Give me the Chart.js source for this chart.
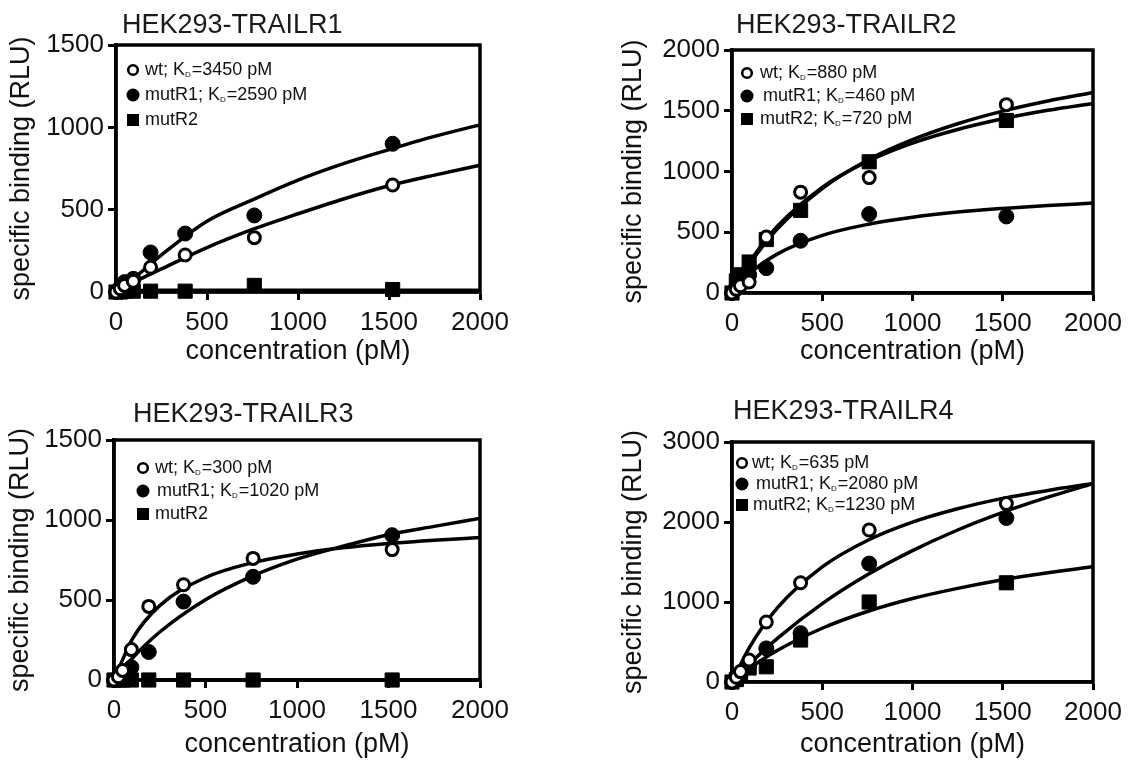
<!DOCTYPE html>
<html>
<head>
<meta charset="utf-8">
<script src="https://cdn.jsdelivr.net/npm/chart.js@4.4.0/dist/chart.umd.min.js"></script>
<style>
  body { margin: 0; background: #fff; width: 1129px; height: 761px; position: relative; overflow: hidden; }
  canvas { position: absolute; }
</style>
</head>
<body>
<canvas id="p1" width="560" height="380" style="left:0;top:0"></canvas>
<canvas id="p2" width="569" height="380" style="left:560px;top:0"></canvas>
<canvas id="p3" width="560" height="381" style="left:0;top:380px"></canvas>
<canvas id="p4" width="569" height="381" style="left:560px;top:380px"></canvas>
<script>
// measured concentrations (pM) and x positions where the fitted curves were read
const concentrations = [0, 24, 47, 95, 190, 380, 760, 1520];
const fitConcentrations = [0, 100, 250, 500, 750, 1000, 1250, 1500, 1750, 2000];
const seriesNames = ['wt', 'mutR1', 'mutR2'];
const panelTitles = ['HEK293-TRAILR1', 'HEK293-TRAILR2', 'HEK293-TRAILR3', 'HEK293-TRAILR4'];
const yMaxValues = [1500, 2000, 1500, 3000];
const yStepValues = [500, 500, 500, 1000];
const xMax = 2000;
const xStep = 500;
const kdValues = [[3450, 2590, null], [880, 460, 720], [300, 1020, null], [635, 2080, 1230]];

// TRAILR1
const r1Wt    = [0, 20, 40, 65, 150, 225, 330, 650];
const r1Mut1  = [0, 30, 60, 80, 240, 355, 465, 900];
const r1Mut2  = [0, 0, 5, 5, 5, 5, 40, 15];
const r1WtFit   = [0, 60, 140, 270, 380, 475, 565, 645, 710, 770];
const r1Mut1Fit = [0, 85, 225, 430, 560, 680, 780, 865, 945, 1015];
const r1Mut2Fit = [0, 8, 10, 10, 10, 10, 10, 10, 10, 10];

// TRAILR2
const r2Wt    = [0, 30, 60, 90, 460, 830, 950, 1550];
const r2Mut1  = [0, 50, 100, 150, 205, 430, 650, 630];
const r2Mut2  = [0, 100, 150, 255, 440, 680, 1080, 1420];
const r2WtFit   = [0, 242, 526, 860, 1093, 1262, 1393, 1497, 1580, 1650];
const r2Mut1Fit = [0, 162, 320, 474, 564, 623, 666, 696, 720, 740];
const r2Mut2Fit = [0, 259, 547, 870, 1083, 1234, 1346, 1434, 1504, 1560];

// TRAILR3
const r3Wt    = [0, 20, 60, 190, 460, 595, 760, 815];
const r3Mut1  = [0, 10, 30, 80, 175, 490, 645, 905];
const r3Mut2  = [0, 0, 0, 0, 0, 0, 0, 0];
const r3WtFit   = [0, 256, 465, 640, 731, 787, 826, 853, 874, 890];
const r3Mut1Fit = [0, 136, 300, 502, 646, 755, 836, 908, 960, 1010];
const r3Mut2Fit = [0, 0, 0, 0, 0, 0, 0, 0, 0, 0];

// TRAILR4
const r4Wt    = [0, 60, 130, 275, 750, 1240, 1900, 2230];
const r4Mut1  = [0, 40, 90, 200, 420, 610, 1480, 2050];
const r4Mut2  = [0, 30, 80, 175, 190, 525, 1000, 1240];
const r4WtFit   = [0, 444, 923, 1439, 1769, 1998, 2165, 2295, 2395, 2480];
const r4Mut1Fit = [0, 232, 543, 980, 1340, 1642, 1900, 2120, 2310, 2480];
const r4Mut2Fit = [0, 175, 393, 672, 881, 1043, 1170, 1278, 1365, 1440];

const FONT = '"Liberation Sans", Arial, Helvetica, sans-serif';

// layout of each panel inside its canvas
const panels = [
  { id: 'p1', pts: [r1Wt, r1Mut1, r1Mut2], fits: [r1WtFit, r1Mut1Fit, r1Mut2Fit],
    pad: { top: 45, right: 80 }, yW: 116, xH: 88, yTitlePad: 5, xTitlePad: 12,
    title: { dx: 6, dy: 19 }, legend: { dx: 17, dy: 25, gap: 25, textGap: [12, 12, 12] } },
  { id: 'p2', pts: [r2Wt, r2Mut1, r2Mut2], fits: [r2WtFit, r2Mut1Fit, r2Mut2Fit],
    pad: { top: 50, right: 36 }, yW: 172, xH: 87, yTitlePad: 57, xTitlePad: 12,
    title: { dx: 4, dy: 24 }, legend: { dx: 15, dy: 23, gap: 23, textGap: [13, 16, 13] } },
  { id: 'p3', pts: [r3Wt, r3Mut1, r3Mut2], fits: [r3WtFit, r3Mut1Fit, r3Mut2Fit],
    pad: { top: 60, right: 80 }, yW: 114, xH: 81, yTitlePad: 4, xTitlePad: 0,
    title: { dx: 19, dy: 25 }, legend: { dx: 29, dy: 28, gap: 23, textGap: [12, 14, 12] } },
  { id: 'p4', pts: [r4Wt, r4Mut1, r4Mut2], fits: [r4WtFit, r4Mut1Fit, r4Mut2Fit],
    pad: { top: 62, right: 36 }, yW: 172, xH: 79, yTitlePad: 57, xTitlePad: 0,
    title: { dx: 1, dy: 30 }, legend: { dx: 10, dy: 21, gap: 21, textGap: [10, 14, 11] } }
];

const markerStyles = [
  { pointStyle: 'circle', radius: 6, backgroundColor: '#fff', borderColor: '#000', borderWidth: 3 },
  { pointStyle: 'circle', radius: 7.5, backgroundColor: '#000', borderColor: '#000', borderWidth: 1 },
  { pointStyle: 'rect', radius: 10, backgroundColor: '#000', borderColor: '#000', borderWidth: 1 }
];

// closed box round the plot area
const boxPlugin = {
  id: 'box',
  beforeDatasetsDraw(chart) {
    const a = chart.chartArea, ctx = chart.ctx;
    ctx.save();
    ctx.lineWidth = 3.5;
    ctx.strokeStyle = '#000';
    ctx.strokeRect(a.left, a.top, a.right - a.left, a.bottom - a.top);
    ctx.restore();
  }
};

const panelTitlePlugin = {
  id: 'panelTitle',
  afterDraw(chart, args, opts) {
    const ctx = chart.ctx, a = chart.chartArea;
    ctx.save();
    ctx.font = '27px ' + FONT;
    ctx.fillStyle = '#1a1a1a';
    ctx.textBaseline = 'middle';
    ctx.textAlign = 'left';
    ctx.fillText(opts.text, a.left + opts.dx, a.top - opts.dy);
    ctx.restore();
  }
};

// legend with subscript D in K_D
const kdLegendPlugin = {
  id: 'kdLegend',
  afterDraw(chart, args, opts) {
    const ctx = chart.ctx, a = chart.chartArea;
    ctx.save();
    opts.entries.forEach((e, i) => {
      const x = a.left + opts.dx, y = a.top + opts.dy + i * opts.gap;
      ctx.fillStyle = '#000';
      ctx.strokeStyle = '#000';
      if (i === 2) {
        ctx.fillRect(x - 6, y - 6, 12, 12);
      } else {
        ctx.beginPath();
        ctx.arc(x, y, i === 0 ? 4.8 : 6.5, 0, Math.PI * 2);
        if (i === 0) {
          ctx.lineWidth = 2.6;
          ctx.fillStyle = '#fff';
          ctx.fill();
          ctx.stroke();
        } else {
          ctx.fill();
        }
      }
      let tx = x + opts.textGap[i];
      ctx.fillStyle = '#111';
      ctx.textBaseline = 'middle';
      ctx.textAlign = 'left';
      ctx.font = '18px ' + FONT;
      const head = e.kd == null ? e.name : e.name + '; K';
      ctx.fillText(head, tx, y);
      tx += ctx.measureText(head).width;
      if (e.kd != null) {
        ctx.font = '8px ' + FONT;
        ctx.fillText('D', tx, y + 5);
        tx += ctx.measureText('D').width + 1;
        ctx.font = '18px ' + FONT;
        ctx.fillText('=' + e.kd + ' pM', tx, y);
      }
    });
    ctx.restore();
  }
};

const plainTick = v => String(v);

panels.forEach((p, k) => {
  const datasets = [];
  seriesNames.forEach((name, s) => {
    datasets.push({
      label: name,
      data: concentrations.map((c, j) => ({ x: c, y: p.pts[s][j] })),
      showLine: false,
      clip: false,
      pointRadius: markerStyles[s].radius,
      pointStyle: markerStyles[s].pointStyle,
      pointBackgroundColor: markerStyles[s].backgroundColor,
      pointBorderColor: markerStyles[s].borderColor,
      pointBorderWidth: markerStyles[s].borderWidth
    });
  });
  seriesNames.forEach((name, s) => {
    datasets.push({
      label: name + ' fit',
      data: fitConcentrations.map((c, j) => ({ x: c, y: p.fits[s][j] })),
      showLine: true,
      pointRadius: 0,
      borderColor: '#000',
      borderWidth: 3.5,
      cubicInterpolationMode: 'monotone',
      clip: 4
    });
  });

  new Chart(document.getElementById(p.id), {
    type: 'scatter',
    data: { datasets },
    plugins: [boxPlugin, panelTitlePlugin, kdLegendPlugin],
    options: {
      responsive: false,
      animation: false,
      layout: { padding: { left: 0, right: p.pad.right, top: p.pad.top, bottom: 0 } },
      scales: {
        x: {
          type: 'linear', min: 0, max: xMax,
          afterFit: sc => { sc.height = p.xH; },
          ticks: { stepSize: xStep, callback: plainTick, color: '#111', font: { family: FONT, size: 26 }, padding: 7, maxRotation: 0 },
          grid: { drawOnChartArea: false, drawTicks: true, tickLength: 8, tickWidth: 3, color: '#000' },
          border: { display: true, color: '#000', width: 3.5 },
          title: { display: true, text: 'concentration (pM)', color: '#111',
                   font: { family: FONT, size: 27 }, padding: { top: 0, bottom: p.xTitlePad } }
        },
        y: {
          type: 'linear', min: 0, max: yMaxValues[k],
          afterFit: sc => { sc.width = p.yW; },
          ticks: { stepSize: yStepValues[k], callback: plainTick, color: '#111', font: { family: FONT, size: 26 }, padding: 4 },
          grid: { drawOnChartArea: false, drawTicks: true, tickLength: 8, tickWidth: 3, color: '#000' },
          border: { display: true, color: '#000', width: 3.5 },
          title: { display: true, text: 'specific binding (RLU)', color: '#111',
                   font: { family: FONT, size: 27 }, padding: { top: p.yTitlePad, bottom: 0 } }
        }
      },
      plugins: {
        legend: { display: false },
        tooltip: { enabled: false },
        panelTitle: { text: panelTitles[k], dx: p.title.dx, dy: p.title.dy },
        kdLegend: Object.assign({
          entries: seriesNames.map((n, s) => ({ name: n, kd: kdValues[k][s] }))
        }, p.legend)
      }
    }
  });
});
</script>
</body>
</html>
